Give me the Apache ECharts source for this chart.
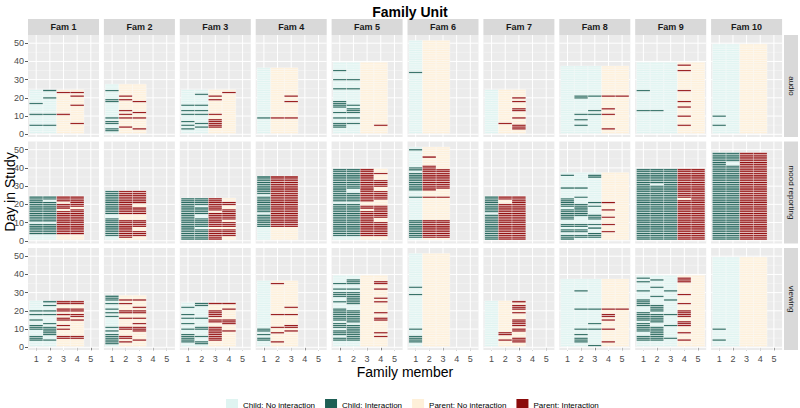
<!DOCTYPE html>
<html><head><meta charset="utf-8">
<script src="https://cdn.jsdelivr.net/npm/echarts@6/dist/echarts.min.js"></script>
<style>html,body{margin:0;padding:0;background:#fff}#c{width:800px;height:408px}</style>
</head><body><div id="c"></div>
<script>
// ---------------- DATA ----------------
const families = ['Fam 1','Fam 2','Fam 3','Fam 4','Fam 5','Fam 6','Fam 7','Fam 8','Fam 9','Fam 10'];
const modalities = ['audio','mood reporting','viewing'];
const memberTicks = [1,2,3,4,5];
const dayTicks = [0,10,20,30,40,50];
// role of each family member (C = child, P = parent)
const roles = ['CCPP','CPP','CCPP','CPP','CCPP','CPP','CPP','CCCPP','CCCPP','CCPP'];
// number of study days per family and modality
const audioDays   = [24,27,24,36,39,51,24,37,39,49];
const moodDays    = [24,27,23,35,39,51,24,37,39,48];
const viewingDays = [25,28,24,36,39,51,25,37,39,49];
// interaction days per family/member; a number is one day, [a,b] a run of consecutive days
const audioInteraction = [
  [[17,11,5],[24,20,11,5],[23,11],[23,21,16,6]],
  [[24,19,18,9,7,6,3,2],[21,19,13,11,9,4],[18,12,9,3]],
  [[16,13,11,7,5,3],[22,16,13,11,6,4],[21,19,11,8,7,6,5,4],[23]],
  [[9],[9],[21,18,9]],
  [[35,30,25,18,17,16,15,12,9,6,5,4],[30,25,16,14,13,12,9,6],[],[5]],
  [[34],[],[]],
  [[],[6],[20,18,14,13,9,5,4,3]],
  [[],[21,20,11,8,5],[21,13,11],[21,14,11,3],[21]],
  [[24,13],[13],[],[38,35,24,18,15,10,5],[]],
  [[10,5],[],[],[]]
];
const moodInteraction = [
  [[[4,9],[11,24]],[[4,9],[11,21],[23,24]],[[4,16],[18,20],[22,24]],[[4,17],[19,24]]],
  [[[3,12],[15,27]],[[2,11],[15,27]],[[3,5],[8,11],[15,18],[21,27]]],
  [[[1,23]],[[1,6],[8,12],[15,18],[20,23]],[[1,6],[8,15],[17,23]],[[3,6],[8,10],[12,17],[20,21]]],
  [[[8,14],[16,24],[26,35]],[[8,35]],[[8,35]]],
  [[[3,20],[22,39]],[[3,20],[22,26],[29,39]],[[3,16],[18,19],[22,39]],[37,[30,33],[23,27],[13,19],[3,10]]],
  [[50,[39,40],[28,37],24,[2,11]],[46,41,[28,40],24,[2,11]],[[35,39],[29,34],24,[2,11]]],
  [[[1,14],[16,24]],[[1,20],[23,24]],[[1,24]]],
  [[36,29,[19,23],[12,17],[8,9],[5,6],[1,3]],[29,24,[14,20],[8,9],[5,6],[2,3]],[[35,36],21,19,[12,14],9,7,[2,4]],[21,17,13,9,5],[]],
  [[[1,39]],[[1,30],[32,39]],[[1,39]],[[1,22],[24,39]],[[1,39]]],
  [[[1,48]],[[1,41],[44,48]],[[1,48]],[[1,48]]]
];
const viewingInteraction = [
  [[20,18,15,12,11,10,6,5,4],[25,23,20,18,13,11,10,9,8,7,4],[25,24,21,20,18,16,15,12,10,6,5],[25,24,21,20,18,17,15,6,5]],
  [[28,27,26,24,21,19,17,11,9,7,6,5,4,3,2],[26,24,20,19,16,11,10,6,5,3],[26,22,20,19,16,13,11,10,9,4]],
  [[22,18,16,13,10,7,6,5,4,3],[24,23,16,11,10,6,3,2],[24,20,19,18,17,15,14,11,10,9,8,7,6,5,4],[24,21,15,14,13,9]],
  [[10,9,7,5,4],[35,18,11,8,3],[22,18,12,11,9]],
  [[35,32,30,29,28,25,21,20,19,18,17,16,15,13,12,11,9,8,7,5,4],[37,36,35,32,30,29,28,27,26,25,24,20,19,18,17,16,15,14,12,11,10,9,8,7,6,5,4],[],[36,35,32,27,25,19,16,15,8,6]],
  [[33,29,10,6,5,4,3],[],[]],
  [[],[8,7,4],[25,23,22,21,19,15,14,13,12,10,9,5,4,3]],
  [[],[31,21,10,7,5,4,3],[21,13,10,1],[21,18,17,15,10,3],[21]],
  [[38,36,31,26,25,24,23,19,18,17,16,15,13,12,11,10,9,6,5,4],[37,33,28,23,22,21,20,18,17,16,15,14,11,10,9,8,7,6,5,4],[31,26,18,12,5],[38,37,36,29,24,20,19,18,17,14,13,12,8,4],[]],
  [[10,4],[],[],[]]
];
const legendNames = ['Child: No interaction','Child: Interaction','Parent: No interaction','Parent: Interaction'];

// ---------------- STYLE / LAYOUT ----------------
const FILL = ['#DFF4F1','#7AA49D','#FEF0D9','#BE6A6A'];
const DARK = [null,'#25665C','#000000','#920E0E'];
const LEGEND_COLOR = ['#DFF4F1','#1E5F55','#FEF0D9','#8B0B0B'];
const PL = 28, PW = 71, STEP = 75.9, PH = 102;
const ROW_TOP = [35, 141.5, 248];
const XMIN = 0.4, XMAX = 5.6, YMIN = -1.5, YMAX = 54.5;
const FONT = 'Liberation Sans, Arial, sans-serif';

const dayLists = [audioDays, moodDays, viewingDays];
const interLists = [audioInteraction, moodInteraction, viewingInteraction];

function expandDays(list){
  const s = new Set();
  list.forEach(v => {
    if (Array.isArray(v)) { for (let d = v[0]; d <= v[1]; d++) s.add(d); }
    else s.add(v);
  });
  return s;
}

const grids = [], xAxes = [], yAxes = [], series = [], graphics = [];

function gridRender(params, api){
  const xa = api.coord([XMIN, 0])[0], xb = api.coord([XMAX, 0])[0];
  const yt = api.coord([1, YMAX])[1], yb = api.coord([1, YMIN])[1];
  const ch = [];
  [5,15,25,35,45].forEach(v => { const y = api.coord([1, v])[1];
    ch.push({type:'line', shape:{x1:xa,y1:y,x2:xb,y2:y}, style:{stroke:'#F7F7F7', lineWidth:0.5}}); });
  dayTicks.forEach(v => { const y = api.coord([1, v])[1];
    ch.push({type:'line', shape:{x1:xa,y1:y,x2:xb,y2:y}, style:{stroke:'#FFFFFF', lineWidth:1}}); });
  memberTicks.forEach(v => { const x = api.coord([v, 0])[0];
    ch.push({type:'line', shape:{x1:x,y1:yt,x2:x,y2:yb}, style:{stroke:'#FFFFFF', lineWidth:1}}); });
  return {type:'group', children: ch, silent:true};
}

function tileRender(params, api){
  const m = api.value(0), d = api.value(1), cat = api.value(2);
  const p0 = api.coord([m - 0.5, d + 0.5]);
  const p1 = api.coord([m + 0.5, d - 0.5]);
  const x = p0[0], y = p0[1], w = p1[0] - p0[0], h = p1[1] - p0[1];
  const ch = [{type:'rect', shape:{x:x, y:y, width:w, height:h},
    style:{fill: FILL[cat], stroke:'#FFFFFF', lineWidth:0.35}}];
  if (cat === 1 || cat === 3) {
    ch.push({type:'rect', shape:{x:x+0.2, y:y + h*0.28, width:w-0.4, height:h*0.46},
      style:{fill: DARK[cat]}});
  }
  return {type:'group', children: ch};
}

for (let r = 0; r < 3; r++) {
  for (let c = 0; c < 10; c++) {
    const gi = r * 10 + c;
    grids.push({left: PL + c * STEP, top: ROW_TOP[r], width: PW, height: PH,
      show: true, backgroundColor: '#EBEBEB', borderWidth: 0, containLabel: false});
    xAxes.push({gridIndex: gi, type: 'value', min: XMIN, max: XMAX,
      axisLine: {show: false}, splitLine: {show: false},
      axisTick: {show: r === 2, customValues: memberTicks, length: 3, lineStyle: {color: '#333333', width: 0.8}},
      axisLabel: {show: r === 2, customValues: memberTicks, color: '#4D4D4D', fontSize: 9, margin: 4, fontFamily: FONT}});
    yAxes.push({gridIndex: gi, type: 'value', min: YMIN, max: YMAX,
      axisLine: {show: false}, splitLine: {show: false},
      axisTick: {show: c === 0, customValues: dayTicks, length: 3, lineStyle: {color: '#333333', width: 0.8}},
      axisLabel: {show: c === 0, customValues: dayTicks, color: '#4D4D4D', fontSize: 9, margin: 4, fontFamily: FONT}});
    series.push({type: 'custom', xAxisIndex: gi, yAxisIndex: gi, data: [[1, 0]],
      renderItem: gridRender, silent: true, z: 1});
    const role = roles[c];
    const nDays = dayLists[r][c];
    const data = [];
    for (let m = 1; m <= role.length; m++) {
      const set = expandDays(interLists[r][c][m - 1] || []);
      const base = role[m - 1] === 'C' ? 0 : 2;
      for (let d = 1; d <= nDays; d++) data.push([m, d, base + (set.has(d) ? 1 : 0)]);
    }
    series.push({type: 'custom', xAxisIndex: gi, yAxisIndex: gi, data: data,
      renderItem: tileRender, silent: true, z: 2, clip: true});
  }
}

// legend dummy series
legendNames.forEach((n, i) => {
  series.push({type: 'custom', name: n, xAxisIndex: 0, yAxisIndex: 0, data: [],
    renderItem: () => null, itemStyle: {color: LEGEND_COLOR[i]}});
});

// strips
families.forEach((f, c) => {
  const x = PL + c * STEP;
  graphics.push({type: 'rect', shape: {x: x, y: 19, width: PW, height: 16}, style: {fill: '#D9D9D9'}, silent: true});
  graphics.push({type: 'text', x: x + PW / 2, y: 27, style: {text: f, fill: '#1A1A1A', font: 'bold 9px ' + FONT, align: 'center', verticalAlign: 'middle'}, silent: true});
});
modalities.forEach((mname, r) => {
  graphics.push({type: 'rect', shape: {x: 784, y: ROW_TOP[r], width: 14, height: PH}, style: {fill: '#D9D9D9'}, silent: true});
  graphics.push({type: 'text', x: 791, y: ROW_TOP[r] + PH / 2, rotation: -Math.PI / 2,
    style: {text: mname, fill: '#1A1A1A', font: '8px ' + FONT, align: 'center', verticalAlign: 'middle'}, silent: true});
});
graphics.push({type: 'text', x: 10, y: 192, rotation: Math.PI / 2,
  style: {text: 'Day in Study', fill: '#000', font: '14px ' + FONT, align: 'center', verticalAlign: 'middle'}, silent: true});
graphics.push({type: 'text', x: 405, y: 372,
  style: {text: 'Family member', fill: '#000', font: '14px ' + FONT, align: 'center', verticalAlign: 'middle'}, silent: true});

const chart = echarts.init(document.getElementById('c'), null, {renderer: 'svg', width: 800, height: 408});
chart.setOption({
  animation: false,
  backgroundColor: '#FFFFFF',
  title: {text: 'Family Unit', left: 405, top: 0, textAlign: 'center',
    textStyle: {fontSize: 14, fontWeight: 'bold', color: '#000', fontFamily: FONT}},
  legend: {data: legendNames, left: 221, top: 394, itemWidth: 12, itemHeight: 12, itemGap: 10, icon: 'rect',
    textStyle: {fontSize: 8, color: '#000', fontFamily: FONT}},
  grid: grids, xAxis: xAxes, yAxis: yAxes, series: series, graphic: graphics
});
</script></body></html>
